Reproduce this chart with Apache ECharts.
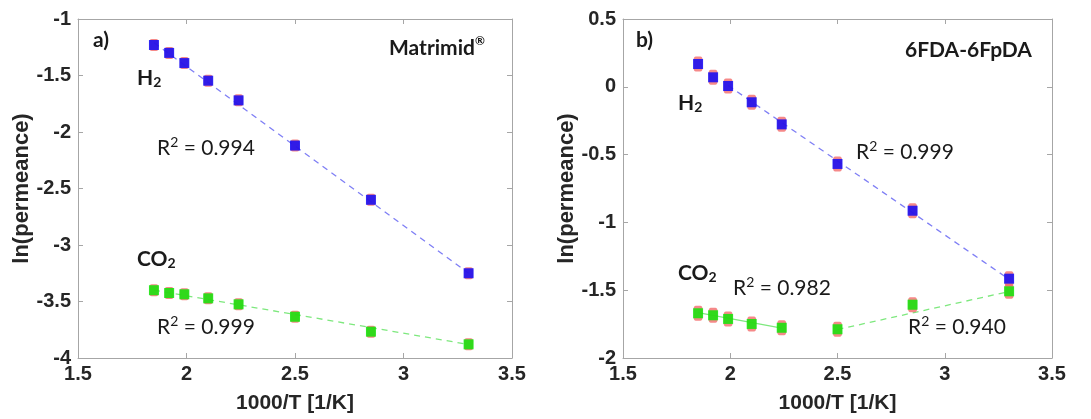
<!DOCTYPE html>
<html><head><meta charset="utf-8">
<script src="https://cdn.jsdelivr.net/npm/echarts@6/dist/echarts.min.js"></script>
<style>html,body{margin:0;padding:0;background:#fff}#c{width:1091px;height:419px}</style>
</head><body><div id="c"></div>
<script>
// ---- data ----
const invT = [1.85, 1.92, 1.99, 2.10, 2.24, 2.50, 2.85, 3.30];
// panel a) Matrimid
const h2A  = [-1.23, -1.30, -1.39, -1.546, -1.72, -2.12, -2.60, -3.25];
const co2A = [-3.40, -3.425, -3.436, -3.472, -3.525, -3.635, -3.767, -3.879];
// panel b) 6FDA-6FpDA
const h2B  = [0.168, 0.070, 0.006, -0.114, -0.277, -0.569, -0.914, -1.415];
const co2B = [-1.670, -1.685, -1.712, -1.749, -1.777, -1.788, -1.607, -1.508];
// fit lines (endpoints)
const fitH2A_x = [1.85, 3.30],  fitH2A_y = [-1.21, -3.25];
const fitCO2A_x = [1.85, 3.30], fitCO2A_y = [-3.40, -3.88];
const fitH2B_x = [1.99, 3.30],  fitH2B_y = [0.01, -1.42];
const fitCO2B1_x = [1.85, 2.24], fitCO2B1_y = [-1.665, -1.78];
const fitCO2B2_x = [2.50, 3.30], fitCO2B2_y = [-1.79, -1.51];
// axis ranges
const xRange = [1.5, 3.5];
const yRangeA = [-4, -1];
const yRangeB = [-2, 0.5];

const FONT = 'Lato';
const AX_FONT = 'Liberation Sans';
const pair = (xs, ys) => xs.map((x, i) => [x, ys[i]]);
const axisGray = '#a6a6a6';
const labelColor = '#262626';

function xAxes(gi) {
  return [
    { gridIndex: gi, type: 'value', min: xRange[0], max: xRange[1], interval: 0.5, position: 'bottom',
      axisLine: { onZero: false, lineStyle: { color: axisGray } }, axisTick: { inside: true, length: 5, lineStyle: { color: axisGray } },
      axisLabel: { color: labelColor, fontFamily: AX_FONT, fontWeight: 'bold', fontSize: 20, margin: 6 },
      splitLine: { show: false },
      name: '1000/T [1/K]', nameLocation: 'middle', nameGap: 35,
      nameTextStyle: { color: labelColor, fontFamily: AX_FONT, fontWeight: 'bold', fontSize: 21 } },
    { gridIndex: gi, type: 'value', min: xRange[0], max: xRange[1], interval: 0.5, position: 'top',
      axisLine: { onZero: false, lineStyle: { color: axisGray } }, axisTick: { inside: true, length: 5, lineStyle: { color: axisGray } },
      axisLabel: { show: false }, splitLine: { show: false } }
  ];
}
function yAxes(gi, r) {
  return [
    { gridIndex: gi, type: 'value', min: r[0], max: r[1], interval: 0.5, position: 'left',
      axisLine: { show: true, onZero: false, lineStyle: { color: axisGray } }, axisTick: { show: true, inside: true, length: 5, lineStyle: { color: axisGray } },
      axisLabel: { color: labelColor, fontFamily: AX_FONT, fontWeight: 'bold', fontSize: 20, margin: 7 },
      splitLine: { show: false },
      name: 'ln(permeance)', nameLocation: 'middle', nameGap: 45, nameRotate: 90,
      nameTextStyle: { color: labelColor, fontFamily: AX_FONT, fontWeight: 'bold', fontSize: 22 } },
    { gridIndex: gi, type: 'value', min: r[0], max: r[1], interval: 0.5, position: 'right',
      axisLine: { show: true, onZero: false, lineStyle: { color: axisGray } }, axisTick: { show: true, inside: true, length: 5, lineStyle: { color: axisGray } },
      axisLabel: { show: false }, splitLine: { show: false } }
  ];
}
function fitLine(xi, yi, xs, ys, color, type) {
  return { type: 'line', xAxisIndex: xi, yAxisIndex: yi, data: pair(xs, ys), showSymbol: false, symbol: 'none',
    lineStyle: { color: color, width: 1.3, type: type }, z: 2, silent: true, animation: false };
}
function marks(xi, yi, ys, color, errH) {
  return [
    { type: 'scatter', xAxisIndex: xi, yAxisIndex: yi, data: pair(invT, ys), symbol: 'roundRect', symbolSize: [9, errH],
      itemStyle: { color: '#f26b6b' }, z: 3, silent: true, animation: false },
    { type: 'scatter', xAxisIndex: xi, yAxisIndex: yi, data: pair(invT, ys), symbol: 'rect', symbolSize: [10, 10],
      itemStyle: { color: color }, z: 4, silent: true, animation: false }
  ];
}
const blue = '#0000ff', green = '#00ee00';
const blueLine = '#7f7ff5', greenLine = '#7ee87e';

function rtext(x, y, text, rich) {
  return { type: 'text', x: x, y: y, style: { text: text, rich: rich, fill: '#1a1a1a', verticalAlign: 'top' }, z: 10 };
}
const richBold = {
  b: { fontFamily: FONT, fontWeight: 'bold', fontSize: 21, color: '#1a1a1a', lineHeight: 24, verticalAlign: 'bottom' },
  s: { fontFamily: FONT, fontWeight: 'bold', fontSize: 14, color: '#1a1a1a', lineHeight: 14, verticalAlign: 'bottom' },
  sup: { fontFamily: FONT, fontWeight: 'bold', fontSize: 12, color: '#1a1a1a', lineHeight: 24, verticalAlign: 'top' }
};
const richReg = {
  r: { fontFamily: FONT, fontSize: 21, color: '#1a1a1a', lineHeight: 24, verticalAlign: 'bottom' },
  p: { fontFamily: FONT, fontSize: 14, color: '#1a1a1a', lineHeight: 16, verticalAlign: 'top' }
};

const chart = echarts.init(document.getElementById('c'), null, { renderer: 'canvas' });
chart.setOption({
  backgroundColor: '#fff',
  animation: false,
  grid: [
    { left: 78, top: 19, width: 434, height: 339, show: false },
    { left: 623, top: 19, width: 429, height: 339, show: false }
  ],
  xAxis: [...xAxes(0), ...xAxes(1)],
  yAxis: [...yAxes(0, yRangeA), ...yAxes(1, yRangeB)],
  series: [
    fitLine(0, 0, fitH2A_x, fitH2A_y, blueLine, [6, 5]),
    fitLine(0, 0, fitCO2A_x, fitCO2A_y, greenLine, [6, 5]),
    ...marks(0, 0, h2A, blue, 12),
    ...marks(0, 0, co2A, green, 12),
    fitLine(2, 2, fitH2B_x, fitH2B_y, blueLine, [6, 5]),
    fitLine(2, 2, fitCO2B1_x, fitCO2B1_y, greenLine, 'solid'),
    fitLine(2, 2, fitCO2B2_x, fitCO2B2_y, greenLine, [6, 5]),
    ...marks(2, 2, h2B, blue, 15),
    ...marks(2, 2, co2B, green, 15)
  ],
  graphic: [
    rtext(93, 27, '{b|a)}', richBold),
    rtext(389, 35, '{b|Matrimid}{sup|®}', richBold),
    rtext(137, 65, '{b|H}{s|2}', richBold),
    rtext(157, 135, '{r|R}{p|2}{r| = 0.994}', richReg),
    rtext(137, 246, '{b|CO}{s|2}', richBold),
    rtext(157, 314, '{r|R}{p|2}{r| = 0.999}', richReg),
    rtext(636, 27, '{b|b)}', richBold),
    rtext(905, 37, '{b|6FDA-6FpDA}', richBold),
    rtext(678, 90, '{b|H}{s|2}', richBold),
    rtext(856, 139, '{r|R}{p|2}{r| = 0.999}', richReg),
    rtext(678, 260, '{b|CO}{s|2}', richBold),
    rtext(733, 275, '{r|R}{p|2}{r| = 0.982}', richReg),
    rtext(908, 314, '{r|R}{p|2}{r| = 0.940}', richReg)
  ]
});
</script></body></html>
